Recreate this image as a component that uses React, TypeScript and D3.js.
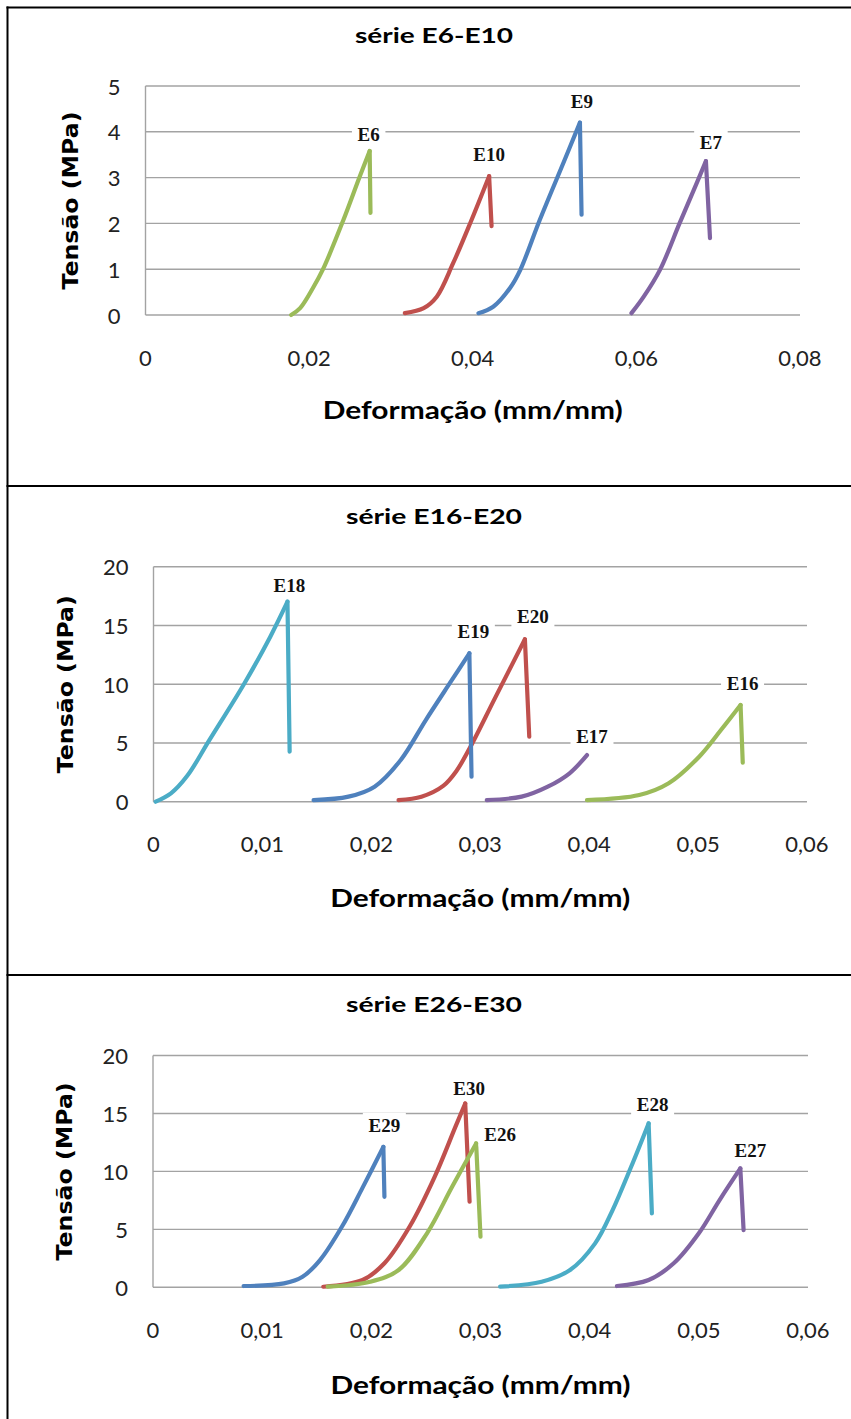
import React from "react";
import * as d3 from "d3";

type Pt = [number, number];

// série E6-E10  [deformação (mm/mm), tensão (MPa)]
const E6: Pt[] = [[0.0178, 0], [0.0189, 0.15], [0.0205, 0.6], [0.0217, 1.0], [0.0242, 2.08], [0.0262, 3.03], [0.0274, 3.58], [0.0275, 2.23]];
const E10: Pt[] = [[0.0317, 0.04], [0.034, 0.15], [0.0356, 0.4], [0.0376, 1.13], [0.0397, 2.01], [0.042, 3.03], [0.0423, 1.94]];
const E9: Pt[] = [[0.0407, 0.04], [0.0425, 0.18], [0.0446, 0.6], [0.0458, 0.98], [0.0482, 2.08], [0.0511, 3.33], [0.0531, 4.2], [0.0533, 2.19]];
const E7: Pt[] = [[0.0594, 0.04], [0.0609, 0.4], [0.0629, 0.99], [0.0653, 2.01], [0.0674, 2.89], [0.0685, 3.36], [0.069, 1.68]];

// série E16-E20
const E18: Pt[] = [[0.0002, 0], [0.0016, 0.71], [0.0031, 2.2], [0.0051, 5.2], [0.0083, 10.0], [0.0107, 14.0], [0.0123, 17.02], [0.0125, 4.26]];
const E19: Pt[] = [[0.0147, 0.14], [0.0179, 0.43], [0.0203, 1.28], [0.0227, 3.55], [0.025, 6.95], [0.0274, 10.36], [0.029, 12.63], [0.0292, 2.13]];
const E20: Pt[] = [[0.0225, 0.14], [0.0246, 0.43], [0.0266, 1.35], [0.0278, 2.6], [0.029, 4.5], [0.0314, 8.9], [0.0341, 13.82], [0.0345, 5.53]];
const E17: Pt[] = [[0.0306, 0.14], [0.0338, 0.43], [0.0362, 1.28], [0.0382, 2.42], [0.0398, 3.97]];
const E16: Pt[] = [[0.0398, 0.14], [0.0446, 0.57], [0.0473, 1.57], [0.0501, 3.83], [0.0521, 6.1], [0.0539, 8.23], [0.0541, 3.32]];

// série E26-E30
const E29: Pt[] = [[0.0083, 0.11], [0.012, 0.34], [0.0137, 0.91], [0.0153, 2.35], [0.0173, 5.22], [0.0192, 8.6], [0.0211, 12.12], [0.0212, 7.81]];
const E30: Pt[] = [[0.0156, 0.05], [0.0192, 0.63], [0.0212, 2.07], [0.0235, 5.22], [0.0258, 9.53], [0.0277, 13.84], [0.0286, 15.86], [0.029, 7.38]];
const E26: Pt[] = [[0.016, 0.05], [0.0199, 0.48], [0.0225, 1.49], [0.0251, 4.66], [0.0274, 8.67], [0.0296, 12.41], [0.03, 4.36]];
const E28: Pt[] = [[0.0318, 0.05], [0.0356, 0.48], [0.0382, 1.49], [0.0405, 3.79], [0.0421, 6.66], [0.0438, 10.4], [0.0454, 14.14], [0.0457, 6.38]];
const E27: Pt[] = [[0.0425, 0.11], [0.0454, 0.63], [0.0477, 2.07], [0.05, 4.66], [0.0519, 7.53], [0.0538, 10.26], [0.0541, 4.94]];

const xTicksA = [0, 0.02, 0.04, 0.06, 0.08];
const yTicksA = [0, 1, 2, 3, 4, 5];
const xTicksB = [0, 0.01, 0.02, 0.03, 0.04, 0.05, 0.06];
const yTicksB = [0, 5, 10, 15, 20];

const BLUE = "#4F81BD";
const RED = "#C0504D";
const GREEN = "#9BBB59";
const PURPLE = "#8064A2";
const CYAN = "#4BACC6";

const GRID = "#a3a3a3";
const SANS = "Lato, 'Open Sans', sans-serif";

const panels = [
  {
    title: "série E6-E10", titleY: 43, xLabelY: 419, yLabelX: 70,
    x0: 145.5, x1: 800, yTop: 86, yBot: 315,
    xTicks: xTicksA, yTicks: yTicksA,
    series: [
      { name: "E6", data: E6, color: GREEN, dx: -1, dy: -10 },
      { name: "E10", data: E10, color: RED, dx: 0, dy: -15 },
      { name: "E9", data: E9, color: BLUE, dx: 2, dy: -15 },
      { name: "E7", data: E7, color: PURPLE, dx: 5, dy: -12 },
    ],
  },
  {
    title: "série E16-E20", titleY: 524, xLabelY: 907, yLabelX: 65,
    x0: 153.5, x1: 807, yTop: 566.7, yBot: 801.7,
    xTicks: xTicksB, yTicks: yTicksB,
    series: [
      { name: "E18", data: E18, color: CYAN, dx: 2, dy: -10 },
      { name: "E20", data: E20, color: RED, dx: 8, dy: -16 },
      { name: "E19", data: E19, color: BLUE, dx: 4, dy: -15 },
      { name: "E17", data: E17, color: PURPLE, dx: 5, dy: -12 },
      { name: "E16", data: E16, color: GREEN, dx: 2, dy: -15 },
    ],
  },
  {
    title: "série E26-E30", titleY: 1012, xLabelY: 1394, yLabelX: 64,
    x0: 153, x1: 808, yTop: 1055.5, yBot: 1287.3,
    xTicks: xTicksB, yTicks: yTicksB,
    series: [
      { name: "E29", data: E29, color: BLUE, dx: 1, dy: -15 },
      { name: "E30", data: E30, color: RED, dx: 4, dy: -8 },
      { name: "E26", data: E26, color: GREEN, dx: 24, dy: -2 },
      { name: "E28", data: E28, color: CYAN, dx: 4, dy: -12 },
      { name: "E27", data: E27, color: PURPLE, dx: 10, dy: -11 },
    ],
  },
];

const fmt = (v: number) => (v === 0 ? "0" : d3.format(".2f")(v).replace(".", ","));

function Panel({ p }: { p: (typeof panels)[number] }) {
  const xMax = p.xTicks[p.xTicks.length - 1];
  const yMax = p.yTicks[p.yTicks.length - 1];
  const x = d3.scaleLinear().domain([0, xMax]).range([p.x0, p.x1]);
  const y = d3.scaleLinear().domain([0, yMax]).range([p.yBot, p.yTop]);
  // smooth rising branch, straight drop after rupture
  const rise = d3.line<Pt>().x((d) => x(d[0])).y((d) => y(d[1])).curve(d3.curveCatmullRom.alpha(0.5));
  const drop = d3.line<Pt>().x((d) => x(d[0])).y((d) => y(d[1]));

  const curves = p.series.map((s) => {
    const pk = d3.maxIndex(s.data, (d) => d[1]);
    const peak = s.data[pk];
    const w = 12 + 9.5 * (s.name.length - 1) + 12;
    return {
      ...s,
      up: rise(s.data.slice(0, pk + 1)) ?? "",
      down: pk < s.data.length - 1 ? drop(s.data.slice(pk)) ?? "" : "",
      lx: x(peak[0]) + s.dx,
      ly: y(peak[1]) + s.dy,
      w,
    };
  });

  return (
    <g>
      <text x={434} y={p.titleY} textAnchor="middle" fontFamily={SANS} fontWeight="bold" fontSize={21}
        textLength={p.title.length > 12 ? 176 : 158} lengthAdjust="spacingAndGlyphs">
        {p.title}
      </text>

      {p.yTicks.map((t) => (
        <line key={"g" + t} x1={p.x0} x2={p.x1} y1={y(t)} y2={y(t)} stroke={GRID} strokeWidth={1.4} />
      ))}
      <line x1={p.x0} x2={p.x0} y1={p.yTop} y2={p.yBot} stroke={GRID} strokeWidth={1.4} />

      {p.yTicks.map((t) => (
        <text key={"yt" + t} x={p.x0 - 25} y={y(t)} textAnchor="end" dominantBaseline="central"
          fontFamily={SANS} fontSize={22} fill="#222">
          {t}
        </text>
      ))}
      {p.xTicks.map((t) => (
        <text key={"xt" + t} x={x(t)} y={p.yBot + 42} textAnchor="middle" dominantBaseline="central"
          fontFamily={SANS} fontSize={22} fill="#222">
          {fmt(t)}
        </text>
      ))}

      {curves.map((c) => (
        <g key={c.name} fill="none" stroke={c.color} strokeWidth={4.2} strokeLinecap="round" strokeLinejoin="round">
          <path d={c.up} />
          {c.down && <path d={c.down} />}
        </g>
      ))}

      {curves.map((l) => (
        <g key={"l" + l.name}>
          <rect x={l.lx - l.w / 2} y={l.ly - 19} width={l.w} height={24} fill="#fff" />
          <text x={l.lx} y={l.ly} textAnchor="middle" fontFamily="'Liberation Serif', 'Times New Roman', serif"
            fontWeight="bold" fontSize={19} fill="#111">
            {l.name}
          </text>
        </g>
      ))}

      <text x={(p.x0 + p.x1) / 2} y={p.xLabelY} textAnchor="middle" fontFamily={SANS} fontWeight="bold"
        fontSize={24} textLength={300} lengthAdjust="spacingAndGlyphs">
        Deformação (mm/mm)
      </text>
      <text transform={`translate(${p.yLabelX},${(p.yTop + p.yBot) / 2}) rotate(-90)`} textAnchor="middle"
        dominantBaseline="central" fontFamily="'DejaVu Sans', Verdana, sans-serif" fontWeight="bold" fontSize={22}
        textLength={178} lengthAdjust="spacingAndGlyphs">
        Tensão (MPa)
      </text>
    </g>
  );
}

export default function App() {
  return (
    <svg width={851} height={1419} style={{ position: "absolute", left: 0, top: 0, background: "#fff" }}>
      <rect width={851} height={1419} fill="#fff" />
      {panels.map((p) => (
        <Panel key={p.title} p={p} />
      ))}
      <line x1={6.5} x2={851} y1={7.5} y2={7.5} stroke="#000" strokeWidth={2} />
      <line x1={6.5} x2={851} y1={486} y2={486} stroke="#000" strokeWidth={2} />
      <line x1={6.5} x2={851} y1={975} y2={975} stroke="#000" strokeWidth={2} />
      <line x1={7.5} x2={7.5} y1={6.5} y2={1419} stroke="#000" strokeWidth={2} />
    </svg>
  );
}
